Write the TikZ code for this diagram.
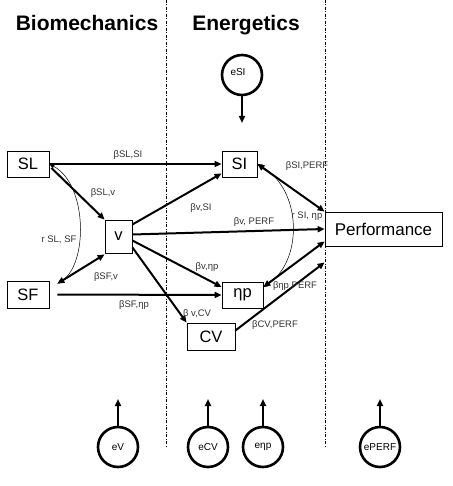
\documentclass[tikz,border=0pt]{standalone}
\usepackage{fontspec}
\setmainfont{Liberation Sans}
\usetikzlibrary{arrows.meta,calc}
\begin{document}
\begin{tikzpicture}[x=1pt,y=-1pt,
  box/.style={draw,line width=0.8pt,inner sep=0pt,font=\fontsize{16.5}{16.5}\selectfont},
  err/.style={draw,circle,line width=2.6pt,minimum size=40pt,inner sep=0pt,font=\fontsize{10}{10}\selectfont},
  arr/.style={line width=2pt,-{Triangle[length=7pt,width=6pt]}},
  darr/.style={line width=2pt,{Triangle[length=7pt,width=6pt]}-{Triangle[length=7pt,width=6pt]}},
  corr/.style={line width=0.5pt,{Triangle[length=5pt,width=4pt]}-{Triangle[length=5pt,width=4pt]}},
  lab/.style={font=\fontsize{9.5}{10}\selectfont,inner sep=0pt,text=black!80},
  sep/.style={line width=0.7pt,dash pattern=on 3pt off 1.5pt on 1pt off 1.5pt},
  head/.style={font=\fontsize{21}{21}\selectfont\bfseries,inner sep=0pt,anchor=base}]
\useasboundingbox (0,0) rectangle (452,486);
% separators
\coordinate (s1t) at (166,0); \coordinate (s1b) at (166,447);
\coordinate (s2t) at (325,0); \coordinate (s2b) at (325,447);
\draw[sep] (s1t) -- (s1b);
\draw[sep] (s2t) -- (s2b);
% headers
\node[head] (hb) at (87,31) {Biomechanics};
\node[head] (he) at (246,31) {Energetics};
% boxes
\node[box,minimum width=42pt,minimum height=26pt] (SL) at (28,164) {SL};
\node[box,minimum width=42pt,minimum height=27pt] (SF) at (28,294.5) {SF};
\node[box,minimum width=27pt,minimum height=33pt] (v) at (118.5,236.5) {v};
\node[box,minimum width=35pt,minimum height=26pt] (SI) at (239.5,164) {SI};
\node[box,minimum width=41pt,minimum height=26pt] (np) at (242.5,295) {ηp};
\node[box,minimum width=48pt,minimum height=27pt] (CV) at (211,336.5) {CV};
\node[box,minimum width=117pt,minimum height=34pt,font=\fontsize{17}{17}\selectfont] (P) at (383.5,229) {Performance};
% error terms
\node[err] (eSI) at (242,75) {};
\node[font=\fontsize{10}{10}\selectfont,inner sep=0pt] (teSIl) at (238,72) {eSI};
\node[err] (eV) at (118,447) {eV};
\node[err] (eCV) at (208,447) {eCV};
\node[err] (enp) at (263,447) {eηp};
\node[err] (eP) at (380,447) {ePERF};
\coordinate (teSI) at (242,123);
\coordinate (teV) at (118,399);
\coordinate (teCV) at (208,399);
\coordinate (tenp) at (263,399);
\coordinate (teP) at (380,399);
\draw[arr] (eSI.south) -- (teSI);
\draw[arr] (eV.north) -- (teV);
\draw[arr] (eCV.north) -- (teCV);
\draw[arr] (enp.north) -- (tenp);
\draw[arr] (eP.north) -- (teP);
% paths
\draw[arr] (SL.east) -- (SI.west);
\draw[arr] ($(SL.east)+(2,4)$) -- (v.north west);
\draw[darr] ($(SF.north east)+(8,3)$) -- ($(v.south west)+(0,1)$);
\draw[arr] ($(SF.east)+(8,0)$) -- (np.west);
\draw[corr] (SL.east) .. controls (88,185) and (88,265) .. ($(SF.north east)+(8,3)$);
\draw[arr] ($(v.east)+(0,-12)$) -- ($(SI.south west)+(0,-4)$);
\draw[arr] ($(v.east)+(0,-2)$) -- (P.west);
\draw[arr] ($(v.east)+(0,4)$) -- ($(np.west)+(0,-8)$);
\draw[arr] ($(v.south east)+(0,-6)$) -- (CV.north west);
\draw[darr] (SI.east) -- (P.north west);
\draw[darr] ($(np.east)+(0,-8)$) -- ($(P.south west)+(0,-5)$);
\draw[arr] ($(CV.east)+(0,-6)$) -- ($(P.south west)+(0,16)$);
\draw[corr] (SI.east) .. controls (303,190) and (303,262) .. ($(np.east)+(0,-8)$);
% labels
\node[lab] (l1) at (128,155) {βSL,SI};
\node[lab] (l2) at (103,193) {βSL,v};
\node[lab] (l3) at (106,277) {βSF,v};
\node[lab] (l4) at (134,305) {βSF,ηp};
\node[lab] (l5) at (59,240) {r SL, SF};
\node[lab] (l6) at (201,208) {βv,SI};
\node[lab] (l7) at (254,222) {βv, PERF};
\node[lab] (l8) at (207,267) {βv,ηp};
\node[lab] (l9) at (197,314) {β v,CV};
\node[lab] (l10) at (307,166) {βSI,PERF};
\node[lab] (l11) at (307,216) {r SI, ηp};
\node[lab] (l12) at (295,286) {βηp,PERF};
\node[lab] (l13) at (275,325) {βCV,PERF};
\end{tikzpicture}
\end{document}
